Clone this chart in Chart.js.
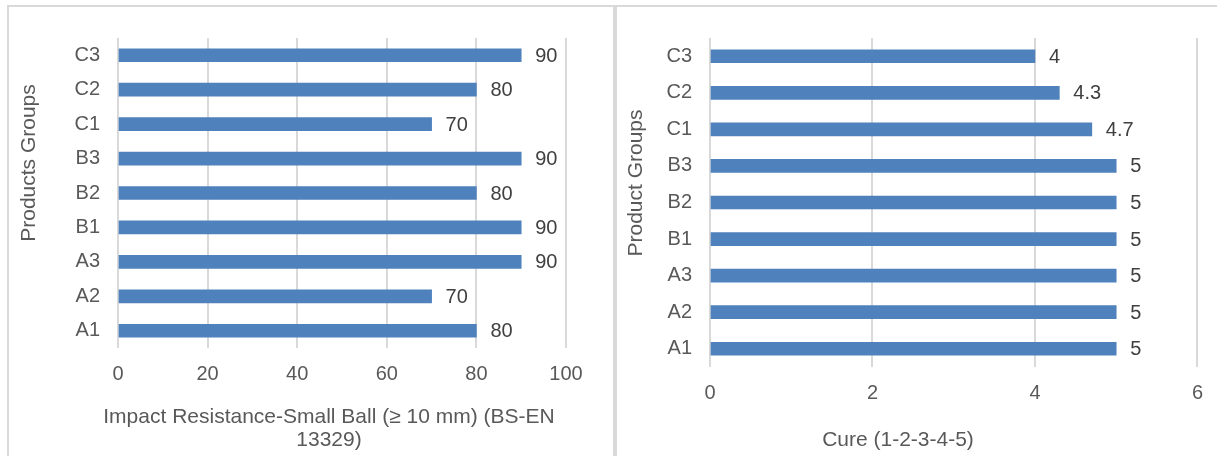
<!DOCTYPE html>
<html>
<head>
<meta charset="utf-8">
<script src="https://cdn.jsdelivr.net/npm/chart.js@4/dist/chart.umd.min.js"></script>
<style>
    body { margin: 0; background: #ffffff; width: 1217px; height: 456px; overflow: hidden; position: relative; }
    .panel { position: absolute; border: 2px solid #d9d9d9; background: #fff; }
    .chart-box { position: absolute; }
</style>
</head>
<body>
<div class="panel" style="left:7px; top:5px; width:604px; height:460px;"></div>
<div class="panel" style="left:615px; top:5px; width:610px; height:460px;"></div>
<div class="chart-box" style="left:10px; top:8px; width:600px; height:448px;"><canvas id="impactChart" width="600" height="448"></canvas></div>
<div class="chart-box" style="left:618px; top:8px; width:599px; height:448px;"><canvas id="cureChart" width="599" height="448"></canvas></div>
<script>
// Data (bottom to top, as in the picture)
const groups = ['A1', 'A2', 'A3', 'B1', 'B2', 'B3', 'C1', 'C2', 'C3'];
const impactValues = [80, 70, 90, 90, 80, 90, 70, 80, 90];
const cureValues = [5, 5, 5, 5, 5, 5, 4.7, 4.3, 4];
const impactTicks = [0, 20, 40, 60, 80, 100];
const cureTicks = [0, 2, 4, 6];
const impactTitle = ['Impact Resistance-Small Ball (\u2265 10 mm) (BS-EN', '13329)'];
const cureTitle = ['Cure (1-2-3-4-5)'];

const FONT = '"Liberation Sans", Arial, sans-serif';
const textGray = '#595959';

// draws the value next to each bar
const valueLabels = {
    id: 'valueLabels',
    afterDatasetsDraw(chart) {
        const ctx = chart.ctx;
        ctx.save();
        ctx.font = '20px ' + FONT;
        ctx.fillStyle = '#404040';
        ctx.textAlign = 'left';
        ctx.textBaseline = 'middle';
        chart.getDatasetMeta(0).data.forEach(function(bar, i) {
            ctx.fillText(String(chart.data.datasets[0].data[i]), bar.x + 14, bar.y + 1);
        });
        ctx.restore();
    }
};

// axis titles, placed like the Excel ones (not centred on the plot)
const axisTitles = {
    id: 'axisTitles',
    afterDraw(chart, args, opts) {
        const ctx = chart.ctx;
        ctx.save();
        ctx.font = '21px ' + FONT;
        ctx.fillStyle = textGray;
        ctx.textAlign = 'center';
        ctx.textBaseline = 'middle';
        opts.xText.forEach(function(line, i) {
            ctx.fillText(line, opts.xPos[0], opts.xPos[1] + i * 23);
        });
        ctx.translate(opts.yPos[0], opts.yPos[1]);
        ctx.rotate(-Math.PI / 2);
        ctx.fillText(opts.yText, 0, 0);
        ctx.restore();
    }
};

const createChart = (id, values, ticks, xTitle, yTitle, sizes) => {
    const ctx = document.getElementById(id).getContext('2d');
    return new Chart(ctx, {
        type: 'bar',
        data: {
            labels: groups,
            datasets: [{
                data: values,
                backgroundColor: '#4f81bd',
                borderWidth: 0,
                barThickness: 13
            }]
        },
        options: {
            indexAxis: 'y',
            responsive: false,
            animation: false,
            layout: { padding: { top: sizes.top, right: sizes.right, left: 0, bottom: 0 } },
            plugins: {
                legend: { display: false },
                tooltip: { enabled: false },
                axisTitles: { xText: xTitle, yText: yTitle, xPos: sizes.xTitlePos, yPos: sizes.yTitlePos }
            },
            scales: {
                x: {
                    min: ticks[0],
                    max: ticks[ticks.length - 1],
                    afterBuildTicks: function(scale) { scale.ticks = ticks.map(v => ({ value: v })); },
                    afterFit: function(scale) { scale.height = sizes.xHeight; },
                    grid: { color: '#d9d9d9', lineWidth: 2, drawTicks: false },
                    border: { display: false },
                    ticks: { color: textGray, font: { family: FONT, size: 20 }, padding: 14 }
                },
                y: {
                    reverse: true,
                    afterFit: function(scale) { scale.width = sizes.yWidth; },
                    grid: { display: false, drawTicks: false },
                    border: { display: false },
                    ticks: { color: textGray, font: { family: FONT, size: 20 }, padding: 18 }
                }
            }
        },
        plugins: [valueLabels, axisTitles]
    });
};

createChart('impactChart', impactValues, impactTicks, impactTitle, 'Products Groups',
    { top: 28, right: 44, xHeight: 108, yWidth: 108, xTitlePos: [319, 409], yTitlePos: [19, 155] });
createChart('cureChart', cureValues, cureTicks, cureTitle, 'Product Groups',
    { top: 27, right: 18, xHeight: 89, yWidth: 92, xTitlePos: [280, 432], yTitlePos: [18, 175] });
</script>
</body>
</html>
